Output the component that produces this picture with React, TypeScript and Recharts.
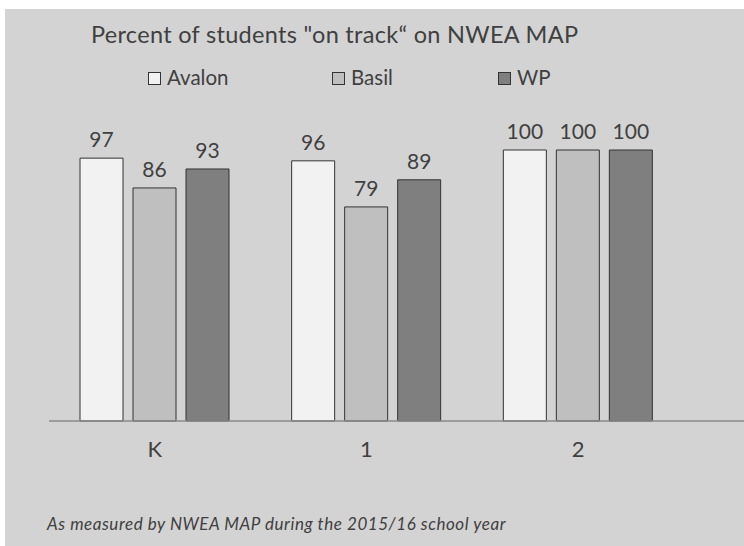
import { Bar, BarChart, LabelList, XAxis, YAxis } from "recharts";

const grades = ["K", "1", "2"];
const avalon = [97, 96, 100];
const basil = [86, 79, 100];
const wp = [93, 89, 100];

const seriesNames = ["Avalon", "Basil", "WP"];
const seriesKeys = ["avalon", "basil", "wp"];
const seriesColors = ["#f2f2f2", "#bfbfbf", "#7f7f7f"];

const title = "Percent of students \"on track\u201C on NWEA MAP";
const footnote = "As measured by NWEA MAP during the 2015/16 school year";

const data = grades.map((grade, i) => ({
  grade,
  avalon: avalon[i],
  basil: basil[i],
  wp: wp[i],
}));

const W = 739;
const H = 537;
const FONT = "Lato, 'Liberation Sans', sans-serif";
const TEXT = "#404040";
// left edge of each legend swatch
const legendX = [143, 327, 493];

export default function App() {
  return (
    <div
      style={{
        position: "fixed",
        left: 5,
        top: 9,
        width: W,
        height: H,
        background: "#d3d3d3",
        fontFamily: FONT,
      }}
    >
      <BarChart
        width={W}
        height={H}
        data={data}
        margin={{ top: 141, right: 0, left: 44, bottom: 95 }}
        barSize={43}
        barGap={10}
      >
        <XAxis
          dataKey="grade"
          height={30}
          padding={{ left: 0, right: 60 }}
          tickLine={false}
          tickSize={0}
          tickMargin={20}
          axisLine={{ stroke: "#8a8a8a", strokeWidth: 1.5 }}
          tick={{ fill: TEXT, fontSize: 22, fontFamily: FONT }}
        />
        <YAxis hide domain={[0, 100]} />
        {seriesKeys.map((key, i) => (
          <Bar
            key={key}
            dataKey={key}
            name={seriesNames[i]}
            fill={seriesColors[i]}
            stroke="#333333"
            strokeWidth={1}
            isAnimationActive={false}
          >
            <LabelList
              dataKey={key}
              position="top"
              offset={11}
              fill={TEXT}
              fontSize={21}
              fontFamily={FONT}
            />
          </Bar>
        ))}
      </BarChart>
      <svg
        width={W}
        height={H}
        style={{ position: "absolute", left: 0, top: 0, pointerEvents: "none" }}
      >
        <text x={86} y={34} fill={TEXT} fontSize={23.5} letterSpacing={0.3} fontFamily={FONT}>
          {title}
        </text>
        {seriesNames.map((name, i) => (
          <g key={name}>
            <rect
              x={legendX[i] + 0.5}
              y={63.5}
              width={12}
              height={12}
              fill={seriesColors[i]}
              stroke="#333333"
              strokeWidth={1}
            />
            <text x={legendX[i] + 19} y={76} fill={TEXT} fontSize={20.5} fontFamily={FONT}>
              {name}
            </text>
          </g>
        ))}
        <text
          x={42}
          y={521}
          fill={TEXT}
          fontSize={17}
          letterSpacing={0.55}
          fontStyle="italic"
          fontFamily={FONT}
        >
          {footnote}
        </text>
      </svg>
    </div>
  );
}
